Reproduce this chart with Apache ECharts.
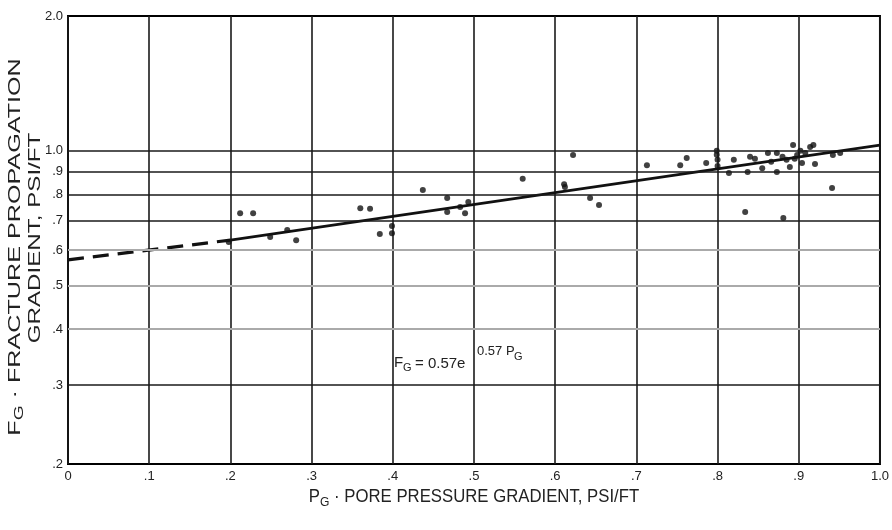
<!DOCTYPE html>
<html><head><meta charset="utf-8">
<script src="https://cdn.jsdelivr.net/npm/echarts@6/dist/echarts.min.js"></script>
<style>html,body{margin:0;padding:0;background:#fff}#c{width:892px;height:530px}</style>
</head><body><div id="c"></div>
<script>
// ---- data ----
const pgValues = [0.212,0.228,0.198,0.249,0.270,0.281,0.360,0.372,0.384,0.399,0.399,0.437,0.467,0.467,0.483,0.489,0.493,0.560,0.612,0.611,0.622,0.643,0.654,0.713,0.754,0.762,0.786,0.799,0.800,0.799,0.800,0.814,0.820,0.834,0.837,0.840,0.846,0.855,0.862,0.866,0.873,0.873,0.880,0.881,0.885,0.889,0.893,0.895,0.898,0.902,0.904,0.908,0.914,0.918,0.920,0.941,0.942,0.951];
const fgValues = [0.726,0.726,0.626,0.642,0.666,0.632,0.745,0.743,0.652,0.680,0.655,0.818,0.785,0.730,0.749,0.726,0.769,0.867,0.830,0.842,0.979,0.785,0.757,0.929,0.929,0.964,0.940,1.000,0.955,0.980,0.925,0.893,0.955,0.730,0.897,0.970,0.960,0.914,0.989,0.945,0.897,0.989,0.970,0.708,0.955,0.920,1.030,0.960,0.979,1.000,0.940,0.989,1.020,1.030,0.935,0.826,0.979,0.989];
const fitSolidPg = [0.2, 1.0];
const fitSolidFg = [0.632, 1.03];
const fitDashPg = [0.0, 0.2];
const fitDashFg = [0.571, 0.632];
const yTickValues = [0.2,0.3,0.4,0.5,0.6,0.7,0.8,0.9,1.0,2.0];
const yGridDark = [0.3,0.7,0.8,0.9,1.0];
const yGridLight = [0.4,0.5,0.6];
const xMin = 0, xMax = 1, xStep = 0.1;
const yMin = 0.2, yMax = 2.0;

const pts = pgValues.map((p,i)=>[p, fgValues[i]]);
const zip = (a,b)=>a.map((v,i)=>[v,b[i]]);
const fontF = 'Liberation Sans, Arial, sans-serif';

const chart = echarts.init(document.getElementById('c'), null, {renderer:'canvas'});
chart.setOption({
  animation:false,
  backgroundColor:'#fff',
  grid:{left:68,right:12,top:16,bottom:66,show:true,borderColor:'#000',borderWidth:2,backgroundColor:'transparent'},
  xAxis:{type:'value',min:xMin,max:xMax,interval:xStep,
    axisLine:{show:false},axisTick:{show:false},
    splitLine:{show:true,lineStyle:{color:'#1a1a1a',width:1.6}},
    axisLabel:{margin:6,color:'#222',fontFamily:fontF,fontSize:13,
      formatter:v=>{ if(Math.abs(v)<1e-9) return '0'; if(Math.abs(v-1)<1e-9) return '1.0'; return '.'+Math.round(v*10);} }
  },
  yAxis:{type:'log',logBase:10,min:yMin,max:yMax,
    axisLine:{show:false},
    axisTick:{show:false,customValues:yTickValues},
    splitLine:{show:false},
    axisLabel:{customValues:yTickValues,margin:5,color:'#222',fontFamily:fontF,fontSize:13,
      formatter:v=>{ if(v>=0.999) return v.toFixed(1); return '.'+Math.round(v*10);} }
  },
  series:[
    {type:'line',data:[],silent:true,
      markLine:{symbol:'none',silent:true,label:{show:false},
        data:yGridDark.map(v=>({yAxis:v,lineStyle:{color:'#1a1a1a',width:1.7,type:'solid'}}))
          .concat(yGridLight.map(v=>({yAxis:v,lineStyle:{color:'#aaa',width:2.2,type:'solid'}})))}
    },
    {type:'line',data:zip(fitDashPg,fitDashFg),symbol:'none',silent:true,
      lineStyle:{color:'#111',width:3.2,type:[16,9]}},
    {type:'line',data:zip(fitSolidPg,fitSolidFg),symbol:'none',silent:true,
      lineStyle:{color:'#111',width:2.6}},
    {type:'scatter',data:pts,symbol:'circle',symbolSize:6,silent:true,
      itemStyle:{color:'#111'}}
  ],
  graphic:[
    // y-axis title
    {type:'text',x:15,y:247,rotation:Math.PI/2,scaleX:1.48,
      style:{text:'{f|F}{g|G}{t| · FRACTURE PROPAGATION}',align:'center',verticalAlign:'middle',
        rich:{f:{fontSize:17,fontFamily:fontF,fill:'#222'},g:{fontSize:13,fontFamily:fontF,fill:'#222',padding:[8,0,0,0]},t:{fontSize:17,fontFamily:fontF,fill:'#222'}}}},
    {type:'text',x:35,y:238,rotation:Math.PI/2,scaleX:1.42,
      style:{text:'GRADIENT, PSI/FT',align:'center',verticalAlign:'middle',fontSize:17,fontFamily:fontF,fill:'#222'}},
    // x-axis title
    {type:'text',x:474,y:497,scaleX:0.93,
      style:{text:'{f|P}{g|G}{t| · PORE PRESSURE GRADIENT, PSI/FT}',align:'center',verticalAlign:'middle',
        rich:{f:{fontSize:18,fontFamily:fontF,fill:'#222'},g:{fontSize:13,fontFamily:fontF,fill:'#222',padding:[10,0,0,0]},t:{fontSize:18,fontFamily:fontF,fill:'#222'}}}},
    // equation
    {type:'text',x:394,y:363,style:{text:'F',fontSize:15,fontFamily:fontF,fill:'#222',verticalAlign:'middle'}},
    {type:'text',x:403,y:368,style:{text:'G',fontSize:11,fontFamily:fontF,fill:'#222',verticalAlign:'middle'}},
    {type:'text',x:415,y:364,style:{text:'= 0.57e',fontSize:15,fontFamily:fontF,fill:'#222',verticalAlign:'middle'}},
    {type:'text',x:477,y:351,style:{text:'0.57 P',fontSize:13,fontFamily:fontF,fill:'#222',verticalAlign:'middle'}},
    {type:'text',x:514,y:357,style:{text:'G',fontSize:11,fontFamily:fontF,fill:'#222',verticalAlign:'middle'}}
  ]
});
</script></body></html>
